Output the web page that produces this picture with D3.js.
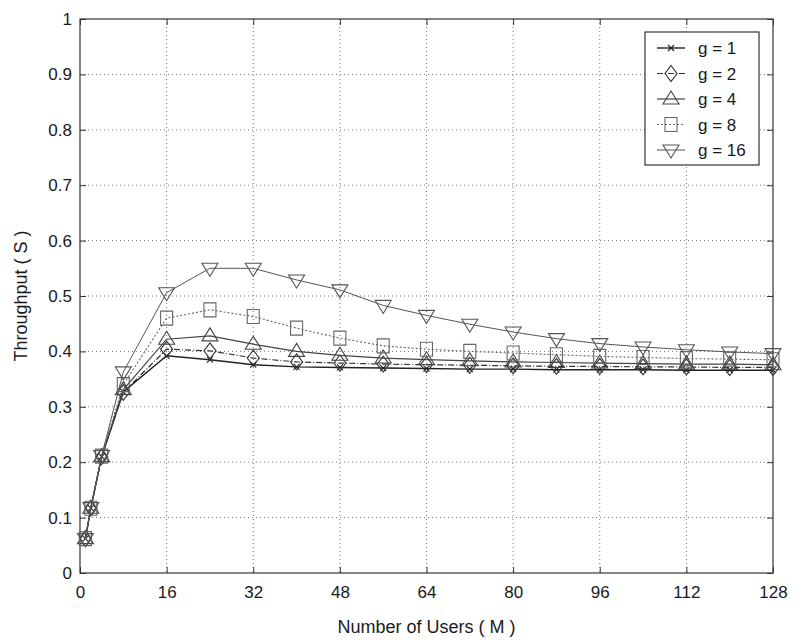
<!DOCTYPE html>
<html>
<head>
<meta charset="utf-8">
<script src="https://cdn.jsdelivr.net/npm/d3@7"></script>
<style>
  body { margin: 0; background: #fff; }
  text { font-family: 'Liberation Sans', Arial, sans-serif; fill: #1a1a1a; }
</style>
</head>
<body>
<div id="chart"></div>
<script>
// number of users M
const users = [1, 2, 4, 8, 16, 24, 32, 40, 48, 56, 64, 72, 80, 88, 96, 104, 112, 120, 128];

// throughput S for each g
const g1  = [0.062, 0.117, 0.210, 0.327, 0.392, 0.385, 0.376, 0.372, 0.371, 0.370, 0.369, 0.368, 0.368, 0.367, 0.367, 0.367, 0.366, 0.366, 0.366];
const g2  = [0.062, 0.117, 0.210, 0.326, 0.404, 0.401, 0.388, 0.381, 0.379, 0.377, 0.376, 0.375, 0.374, 0.373, 0.373, 0.372, 0.372, 0.371, 0.371];
const g4  = [0.062, 0.117, 0.210, 0.331, 0.422, 0.428, 0.413, 0.400, 0.393, 0.388, 0.385, 0.383, 0.381, 0.380, 0.379, 0.378, 0.377, 0.377, 0.376];
const g8  = [0.062, 0.117, 0.211, 0.340, 0.460, 0.475, 0.463, 0.442, 0.424, 0.410, 0.404, 0.400, 0.397, 0.394, 0.391, 0.389, 0.387, 0.386, 0.385];
const g16 = [0.062, 0.118, 0.212, 0.363, 0.506, 0.550, 0.550, 0.529, 0.511, 0.483, 0.465, 0.449, 0.435, 0.423, 0.414, 0.408, 0.403, 0.399, 0.396];

const seriesNames = ['g = 1', 'g = 2', 'g = 4', 'g = 8', 'g = 16'];
const xTicks = [0, 16, 32, 48, 64, 80, 96, 112, 128];
const yTicks = [0, 0.1, 0.2, 0.3, 0.4, 0.5, 0.6, 0.7, 0.8, 0.9, 1];

const margin = { top: 19, right: 20, bottom: 69, left: 80 };
const width = 793 - margin.left - margin.right;
const height = 642 - margin.top - margin.bottom;

const x = d3.scaleLinear().domain([0, 128]).range([0, width]);
const y = d3.scaleLinear().domain([0, 1]).range([height, 0]);

const svg = d3.select('#chart')
  .append('svg')
  .attr('width', 793)
  .attr('height', 642)
  .append('g')
  .attr('transform', `translate(${margin.left},${margin.top})`);

// grid
svg.append('g')
  .selectAll('line')
  .data(xTicks.slice(1, -1))
  .enter()
  .append('line')
  .attr('x1', (d) => x(d)).attr('x2', (d) => x(d))
  .attr('y1', 0).attr('y2', height)
  .attr('stroke', '#777').attr('stroke-width', 1)
  .attr('stroke-dasharray', '1,3');

svg.append('g')
  .selectAll('line')
  .data(yTicks.slice(1, -1))
  .enter()
  .append('line')
  .attr('y1', (d) => y(d)).attr('y2', (d) => y(d))
  .attr('x1', 0).attr('x2', width)
  .attr('stroke', '#777').attr('stroke-width', 1)
  .attr('stroke-dasharray', '1,3');

// axes with inward ticks
const fmtY = (d) => d3.format('~g')(d);
const axisStyle = (g) => {
  g.select('.domain').remove();
  g.selectAll('line').attr('stroke', '#333');
  g.selectAll('text').style('font-size', '17px').attr('fill', '#1a1a1a');
};

svg.append('g')
  .attr('transform', `translate(0,${height})`)
  .call(d3.axisBottom(x).tickValues(xTicks).tickSize(-6).tickPadding(13).tickFormat(d3.format('d')))
  .call(axisStyle);

svg.append('g')
  .call(d3.axisLeft(y).tickValues(yTicks).tickSize(-6).tickPadding(8).tickFormat(fmtY))
  .call(axisStyle);

svg.append('g')
  .call(d3.axisTop(x).tickValues(xTicks).tickSize(-6).tickFormat(''))
  .call(axisStyle);

svg.append('g')
  .attr('transform', `translate(${width},0)`)
  .call(d3.axisRight(y).tickValues(yTicks).tickSize(-6).tickFormat(''))
  .call(axisStyle);

svg.append('rect')
  .attr('width', width).attr('height', height)
  .attr('fill', 'none').attr('stroke', '#333').attr('stroke-width', 1.2);

// marker shapes
const markerPath = (type, cx, cy) => {
  if (type === 'x') {
    const s = 3;
    return `M${cx - s},${cy - s}L${cx + s},${cy + s}M${cx - s},${cy + s}L${cx + s},${cy - s}`;
  }
  if (type === 'diamond') {
    return `M${cx},${cy - 8}L${cx + 6},${cy}L${cx},${cy + 8}L${cx - 6},${cy}Z`;
  }
  if (type === 'up') {
    return `M${cx},${cy - 8}L${cx + 8},${cy + 5}L${cx - 8},${cy + 5}Z`;
  }
  if (type === 'square') {
    return `M${cx - 6},${cy - 7}L${cx + 6},${cy - 7}L${cx + 6},${cy + 7}L${cx - 6},${cy + 7}Z`;
  }
  return `M${cx},${cy + 8}L${cx + 8},${cy - 5}L${cx - 8},${cy - 5}Z`;
};

const series = [
  { name: seriesNames[0], values: g1, marker: 'x', dash: null, color: '#222', lw: 1.4 },
  { name: seriesNames[1], values: g2, marker: 'diamond', dash: '6,2,1,2', color: '#333', lw: 1.2 },
  { name: seriesNames[2], values: g4, marker: 'up', dash: null, color: '#444', lw: 1.2 },
  { name: seriesNames[3], values: g8, marker: 'square', dash: '2,2', color: '#666', lw: 1.1 },
  { name: seriesNames[4], values: g16, marker: 'down', dash: null, color: '#555', lw: 1 }
];

const line = d3.line()
  .x((d) => x(d[0]))
  .y((d) => y(d[1]));

series.forEach((s) => {
  const pts = users.map((u, i) => [u, s.values[i]]);
  svg.append('path')
    .datum(pts)
    .attr('d', line)
    .attr('fill', 'none')
    .attr('stroke', s.color)
    .attr('stroke-width', s.lw)
    .attr('stroke-dasharray', s.dash);

  svg.append('g')
    .selectAll('path')
    .data(pts)
    .enter()
    .append('path')
    .attr('d', (d) => markerPath(s.marker, x(d[0]), y(d[1])))
    .attr('fill', 'none')
    .attr('stroke', s.color)
    .attr('stroke-width', 1.1);
});

// legend
const legend = svg.append('g').attr('transform', `translate(${width - 128},13)`);
legend.append('rect')
  .attr('width', 114).attr('height', 133)
  .attr('fill', '#fff').attr('stroke', '#333').attr('stroke-width', 1.2);

series.forEach((s, i) => {
  const ly = 16 + i * 25.5;
  legend.append('line')
    .attr('x1', 12).attr('x2', 40).attr('y1', ly).attr('y2', ly)
    .attr('stroke', s.color).attr('stroke-width', s.lw)
    .attr('stroke-dasharray', s.dash);
  legend.append('path')
    .attr('d', markerPath(s.marker, 26, ly))
    .attr('fill', 'none').attr('stroke', s.color).attr('stroke-width', 1.1);
  legend.append('text')
    .attr('x', 53).attr('y', ly + 6)
    .style('font-size', '17px')
    .text(s.name);
});

// axis titles
svg.append('text')
  .attr('x', width / 2)
  .attr('y', height + 60)
  .style('text-anchor', 'middle')
  .style('font-size', '18px')
  .text('Number of Users ( M )');

svg.append('text')
  .attr('transform', 'rotate(-90)')
  .attr('x', -height / 2)
  .attr('y', -53)
  .style('text-anchor', 'middle')
  .style('font-size', '18px')
  .text('Throughput ( S )');
</script>
</body>
</html>
